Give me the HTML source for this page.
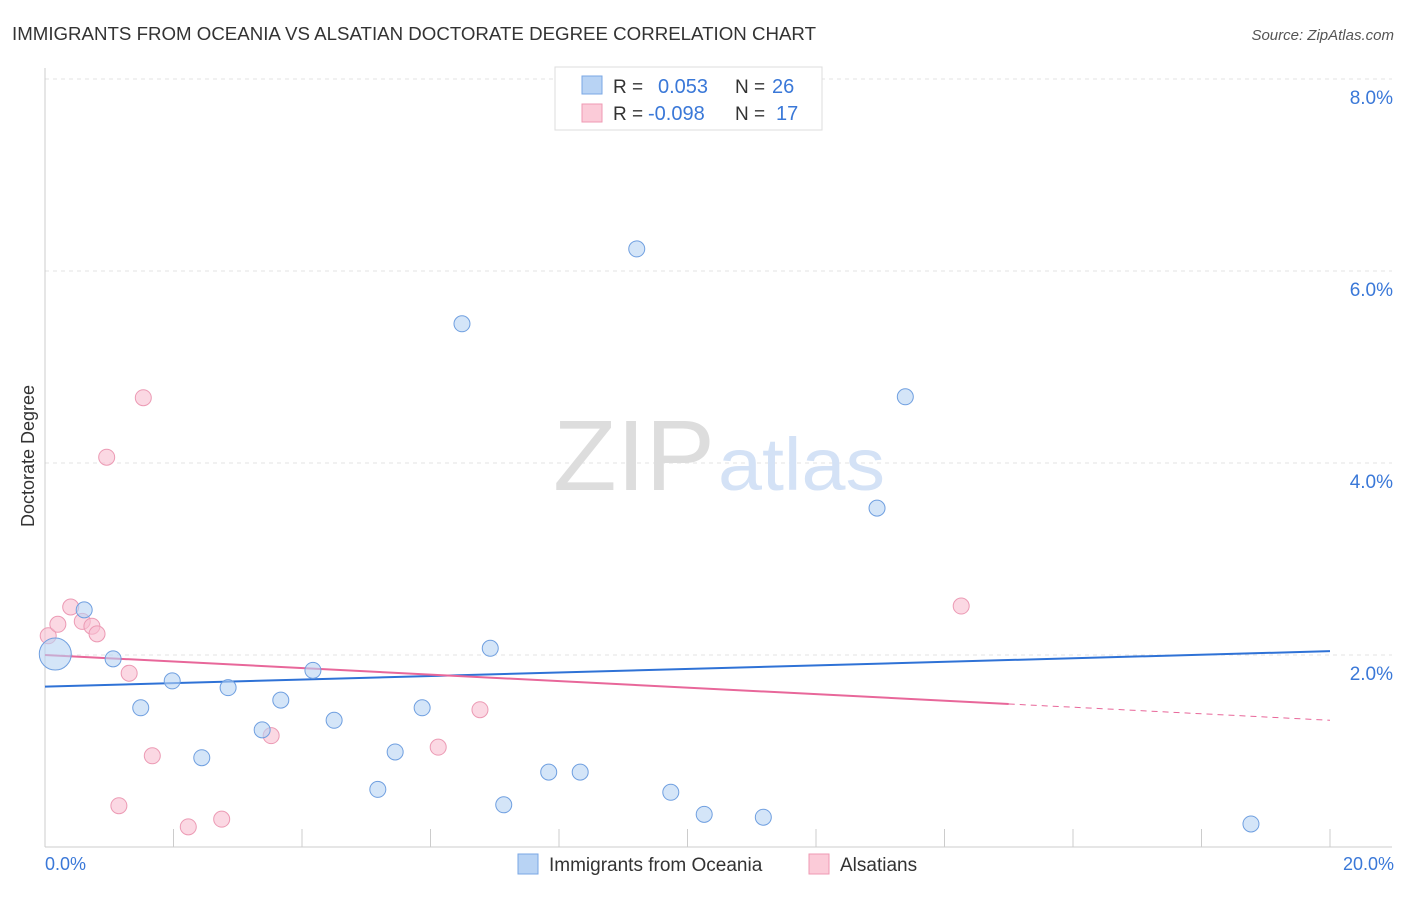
<!DOCTYPE html>
<html><head><meta charset="utf-8"><style>
body{margin:0;background:#fff;font-family:"Liberation Sans",sans-serif;}
svg text{font-family:"Liberation Sans",sans-serif;}
</style></head><body>
<svg width="1406" height="892" xmlns="http://www.w3.org/2000/svg">
<text x="12" y="40" font-size="18" fill="#333" textLength="804" lengthAdjust="spacingAndGlyphs">IMMIGRANTS FROM OCEANIA VS ALSATIAN DOCTORATE DEGREE CORRELATION CHART</text>
<text x="1394" y="40" font-size="15" fill="#555" font-style="italic" text-anchor="end">Source: ZipAtlas.com</text>
<g id="grid"></g>
<g id="ticks"></g>
<line x1="45" y1="68" x2="45" y2="847" stroke="#ccc"/>
<line x1="45" y1="847" x2="1392" y2="847" stroke="#ccc"/>
<g id="xticks"></g>
<text x="45" y="870" font-size="18" fill="#3a78d8">0.0%</text>
<text x="1394" y="870" font-size="18" fill="#3a78d8" text-anchor="end">20.0%</text>
<text transform="translate(34,456) rotate(-90)" font-size="18" fill="#333" text-anchor="middle">Doctorate Degree</text>
<g><text x="553" y="490" font-size="100" fill="#ddd" font-family="Liberation Serif" textLength="162" lengthAdjust="spacingAndGlyphs">ZIP</text><text x="718" y="490" font-size="74" fill="#d4e2f6" textLength="167" lengthAdjust="spacingAndGlyphs">atlas</text></g>
<g id="lines"></g>
<g id="pts"></g>
<g>
<rect x="555" y="67" width="267" height="63" fill="#fff" stroke="#ddd"/>
<rect x="582" y="76" width="20" height="18" fill="#b8d3f4" stroke="#7aa7e4"/>
<rect x="582" y="104" width="20" height="18" fill="#fbcbd8" stroke="#ef9ab3"/>
<text x="613" y="93" font-size="19" fill="#333">R = </text><text x="658" y="93" font-size="20" fill="#3a78d8">0.053</text>
<text x="735" y="93" font-size="19" fill="#333">N = </text><text x="772" y="93" font-size="20" fill="#3a78d8">26</text>
<text x="613" y="120" font-size="19" fill="#333">R = </text><text x="648" y="120" font-size="20" fill="#3a78d8">-0.098</text>
<text x="735" y="120" font-size="19" fill="#333">N = </text><text x="776" y="120" font-size="20" fill="#3a78d8">17</text>
</g>
<g>
<rect x="518" y="854" width="20" height="20" fill="#b8d3f4" stroke="#7aa7e4"/>
<text x="549" y="871" font-size="19" fill="#333">Immigrants from Oceania</text>
<rect x="809" y="854" width="20" height="20" fill="#fbcbd8" stroke="#ef9ab3"/>
<text x="840" y="871" font-size="19" fill="#333">Alsatians</text>
</g>
</svg>
<script>
const blueX=[0.16,0.61,1.06,1.49,1.98,2.44,2.85,3.38,3.67,4.17,4.5,5.18,5.45,5.87,6.49,6.93,7.14,7.84,8.33,9.21,9.74,10.26,11.18,12.95,13.39,18.77];
const blueY=[2.01,2.47,1.96,1.45,1.73,0.93,1.66,1.22,1.53,1.84,1.32,0.60,0.99,1.45,5.45,2.07,0.44,0.78,0.78,6.23,0.57,0.34,0.31,3.53,4.69,0.24];
const pinkX=[0.05,0.2,0.4,0.58,0.73,0.81,0.96,1.31,1.53,1.67,1.15,2.23,2.75,3.52,6.12,6.77,14.26];
const pinkY=[2.2,2.32,2.5,2.35,2.3,2.22,4.06,1.81,4.68,0.95,0.43,0.21,0.29,1.16,1.04,1.43,2.51];
const yTicks=[2,4,6,8];
const yTickLabels=["2.0%","4.0%","6.0%","8.0%"];
const xTicks=[0,2,4,6,8,10,12,14,16,18,20];
const blueTrend=[1.67,2.04];
const pinkTrend=[2.0,1.32];
const pinkSolidEnd=15;
const NS="http://www.w3.org/2000/svg";
const sx=v=>45+v*64.25, sy=v=>847-v*96;
function mk(tag,attrs,parent){const e=document.createElementNS(NS,tag);for(const k in attrs)e.setAttribute(k,attrs[k]);parent.appendChild(e);return e;}
const grid=document.getElementById('grid'),ticks=document.getElementById('ticks'),xt=document.getElementById('xticks');
yTicks.forEach((t,i)=>{
 const l=mk('line',{x1:45,x2:1392,y1:sy(t),y2:sy(t),stroke:'#e3e3e3','stroke-dasharray':'4,4'},grid);
 
 
 const tx=mk('text',{x:1393,y:sy(t)+25,'font-size':19,fill:'#3a78d8','text-anchor':'end'},ticks);
 tx.textContent=yTickLabels[i];
 
 
});
const tl=mk('line',{x1:45,x2:1392,y1:79,y2:79,stroke:'#e3e3e3','stroke-dasharray':'4,4'},grid);
xTicks.forEach(t=>{
 const l=mk('line',{x1:sx(t),x2:sx(t),y1:829,y2:847,stroke:'#ccc'},xt);
 
 
});
const lines=document.getElementById('lines');
const bl=mk('line',{x1:sx(0),y1:sy(blueTrend[0]),x2:sx(20),y2:sy(blueTrend[1]),stroke:'#2f72d6','stroke-width':2},lines);


const pm=pinkTrend[0]+(pinkTrend[1]-pinkTrend[0])*pinkSolidEnd/20;
const pl=mk('line',{x1:sx(0),y1:sy(pinkTrend[0]),x2:sx(pinkSolidEnd),y2:sy(pm),stroke:'#e8679a','stroke-width':2},lines);


const pd=mk('line',{x1:sx(pinkSolidEnd),y1:sy(pm),x2:sx(20),y2:sy(pinkTrend[1]),stroke:'#e8679a','stroke-width':1,'stroke-dasharray':'6,5'},lines);


const pts=document.getElementById('pts');
pinkX.forEach((x,i)=>{
 const c=mk('circle',{cx:sx(x),cy:sy(pinkY[i]),r:8,fill:'rgba(248,190,208,0.6)',stroke:'#ec9ab4','stroke-width':1},pts);
 
 
});
blueX.forEach((x,i)=>{
 const c=mk('circle',{cx:sx(x),cy:sy(blueY[i]),r:i===0?16:8,fill:'rgba(184,211,244,0.6)',stroke:'#6f9fe0','stroke-width':1},pts);
 
 
});
</script>
</body></html>
